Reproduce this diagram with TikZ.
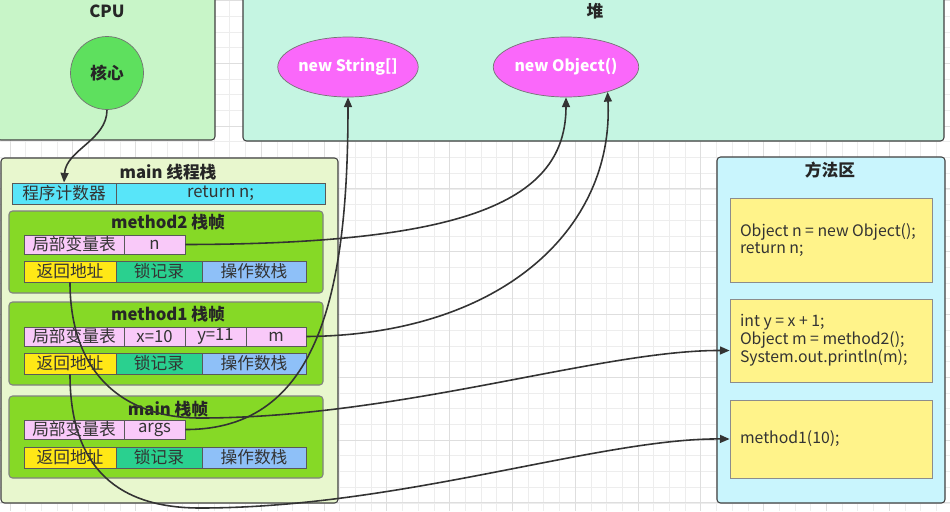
\documentclass[tikz,border=0pt]{standalone}
\usepackage{fontspec}
\setmainfont{Noto Sans CJK SC}
\usetikzlibrary{arrows.meta,shapes.geometric}

\definecolor{cpubg}{RGB}{200,245,200}
\definecolor{corebg}{RGB}{94,224,94}
\definecolor{heapbg}{RGB}{197,245,226}
\definecolor{objbg}{RGB}{250,104,250}
\definecolor{threadbg}{RGB}{232,247,206}
\definecolor{framebg}{RGB}{134,217,38}
\definecolor{pcbg}{RGB}{88,229,249}
\definecolor{varbg}{RGB}{249,201,249}
\definecolor{retbg}{RGB}{255,232,22}
\definecolor{lockbg}{RGB}{42,208,143}
\definecolor{opbg}{RGB}{142,192,248}
\definecolor{methbg}{RGB}{201,245,253}
\definecolor{codebg}{RGB}{255,243,138}

\tikzset{
  sz/.style 2 args={minimum width=#1*0.02cm, minimum height=#2*0.02cm},
  area/.style={draw=black!75, rounded corners=2pt, line width=0.6pt},
  cell/.style={draw=black!65, line width=0.5pt, inner sep=0pt,
    font=\fontsize{9.5}{11}\selectfont, text=black!80},
  title/.style={font=\bfseries\fontsize{9.5}{11}\selectfont, text=black!85},
  heapobj/.style={ellipse, draw=black!55, fill=objbg, inner sep=0pt,
    text=white, font=\bfseries\fontsize{9}{11}\selectfont},
  codebox/.style={draw=black!45, fill=codebg, inner sep=0pt},
  codetext/.style={anchor=west, inner sep=0pt, align=left, text=black!80,
    font=\fontsize{9}{10.2}\selectfont},
  link/.style={draw=black!80, line width=0.9pt,
    -{Triangle[length=5.5pt,width=4.5pt]}},
}

\begin{document}
\begin{tikzpicture}[x=0.02cm, y=-0.02cm]
  \useasboundingbox (0,0) rectangle (950,511);
  \clip (0,0) rectangle (950,511);
  \fill[white] (0,0) rectangle (950,511);

  % drawio grid
  \foreach \i in {0,...,60}
    \draw[black!7, line width=0.3pt] (9.9+15.7*\i,0) -- ++(0,511);
  \foreach \i in {0,...,32}
    \draw[black!7, line width=0.3pt] (0,0.4+15.7*\i) -- ++(950,0);
  \foreach \i in {0,...,15}
    \draw[black!13, line width=0.4pt] (9.9+62.8*\i,0) -- ++(0,511);
  \foreach \i in {0,...,8}
    \draw[black!13, line width=0.4pt] (0,0.4+62.8*\i) -- ++(950,0);

  % CPU and heap
  \node[area, fill=cpubg, sz={218}{150}] (cpu) at (106,65) {};
  \node[title] (cputitle) at (107,11) {CPU};
  \node[circle, draw=black!55, fill=corebg, sz={73}{73}, title] (core) at (107,73) {核心};

  \node[area, fill=heapbg, sz={701}{151}] (heap) at (593.5,65.5) {};
  \node[title] (heaptitle) at (595,11) {堆};
  \node[heapobj, sz={123}{60}] (newstr) at (348,67) {new String[]};
  \node[heapobj, sz={123}{60}] (newobj) at (566,67) {new Object()};

  % main thread stack
  \node[area, fill=threadbg, sz={337}{345}] (thread) at (169.5,330.5) {};
  \node[title] (threadtitle) at (168,172) {main 线程栈};
  \node[cell, fill=pcbg, sz={104}{21}] (pcl) at (64,193.5) {程序计数器};
  \node[cell, fill=pcbg, sz={209}{21}] (pcr) at (220.5,193.5) {return n;};

  % method2 frame
  \node[area, draw=black!50, fill=framebg, sz={314}{82}] (m2) at (166,252) {};
  \node[title] (m2title) at (168,222) {method2 栈帧};
  \node[cell, fill=varbg, sz={100}{19}] (m2var) at (74,244.5) {局部变量表};
  \node[cell, fill=varbg, sz={61}{19}] (m2n) at (154.5,244.5) {n};
  \node[cell, fill=retbg, sz={92}{21}] (m2ret) at (70,271.5) {返回地址};
  \node[cell, fill=lockbg, sz={86}{21}] (m2lock) at (159,271.5) {锁记录};
  \node[cell, fill=opbg, sz={104}{21}] (m2op) at (254,271.5) {操作数栈};

  % method1 frame
  \node[area, draw=black!50, fill=framebg, sz={314}{83}] (m1) at (166,343.5) {};
  \node[title] (m1title) at (168,314) {method1 栈帧};
  \node[cell, fill=varbg, sz={100}{19}] (m1var) at (74,336.5) {局部变量表};
  \node[cell, fill=varbg, sz={61}{19}] (m1x) at (154.5,336.5) {x=10};
  \node[cell, fill=varbg, sz={61}{19}] (m1y) at (215.5,336.5) {y=11};
  \node[cell, fill=varbg, sz={60}{19}] (m1m) at (276,336.5) {m};
  \node[cell, fill=retbg, sz={92}{21}] (m1ret) at (70,363.5) {返回地址};
  \node[cell, fill=lockbg, sz={86}{21}] (m1lock) at (159,363.5) {锁记录};
  \node[cell, fill=opbg, sz={104}{21}] (m1op) at (254,363.5) {操作数栈};

  % main frame
  \node[area, draw=black!50, fill=framebg, sz={314}{82}] (mf) at (166,437) {};
  \node[title] (mftitle) at (168,409) {main 栈帧};
  \node[cell, fill=varbg, sz={100}{19}] (mfvar) at (74,429.5) {局部变量表};
  \node[cell, fill=varbg, sz={61}{19}] (margs) at (154.5,429.5) {args};
  \node[cell, fill=retbg, sz={92}{21}] (mfret) at (70,457.5) {返回地址};
  \node[cell, fill=lockbg, sz={86}{21}] (mflock) at (159,457.5) {锁记录};
  \node[cell, fill=opbg, sz={104}{21}] (mfop) at (254,457.5) {操作数栈};

  % method area
  \node[area, fill=methbg, sz={228}{346}] (meth) at (831,330) {};
  \node[title] (methtitle) at (830,170) {方法区};
  \node[codebox, sz={202}{84}] (code1) at (831,240) {};
  \node[codebox, sz={202}{83}] (code2) at (831,340.5) {};
  \node[codebox, sz={202}{78}] (code3) at (831,439) {};
  \node[codetext] (code1txt) at ([xshift=10*0.02cm]code1.west)
    {Object n = new Object();\\return n;};
  \node[codetext] (code2txt) at ([xshift=10*0.02cm]code2.west)
    {int y = x + 1;\\Object m = method2();\\System.out.println(m);};
  \node[codetext] (code3txt) at ([xshift=10*0.02cm]code3.west) {method1(10);};

  % references
  \draw[link] (core.south) .. controls (107,140) and (66,150) .. (pcl.north);
  \draw[link] (m2n.east) .. controls (470,244) and (566,200) .. (newobj.south);
  \draw[link] (m1m.east) .. controls (500,335) and (614,230) .. (newobj.-31);
  \draw[link] (margs.east) .. controls (320,430) and (348,290) .. (newstr.south);
  \draw[link] (m2ret.south) .. controls (70,370) and (120,418) .. (200,418)
    .. controls (400,418) and (600,350) .. ([yshift=-5.7pt]code2.west);
  \draw[link] (m1ret.south) .. controls (70,470) and (120,508) .. (200,508)
    .. controls (400,508) and (600,438) .. (code3.west);
\end{tikzpicture}
\end{document}
